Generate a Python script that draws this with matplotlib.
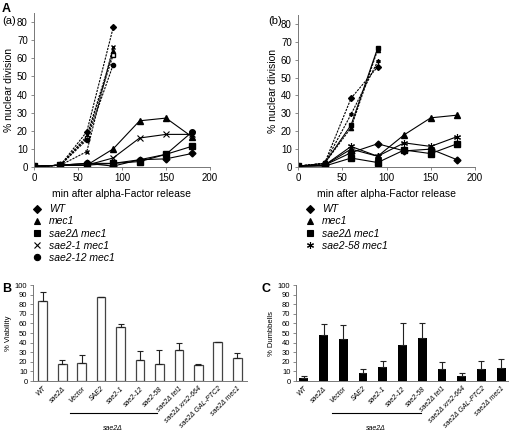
import numpy as np
import matplotlib
matplotlib.use("Agg")
import matplotlib.pyplot as plt
from matplotlib.lines import Line2D

plt.rcParams["font.family"] = ["Liberation Sans", "DejaVu Sans"]

# --- time courses (A) ---
t = [0, 30, 60, 90, 120, 150, 180]
t_short = [0, 30, 60, 90]

wt_a = [0.3, 1, 2, 0.5, 4, 4.5, 7.5]
mec1_a = [0.3, 1, 1, 10, 25.5, 27, 16.5]
dmec1_a = [0.3, 1, 1, 2, 3, 7, 11.5]
s1mec1_a = [0.3, 1, 1, 5, 16, 18, 18]
s12mec1_a = [0.3, 1, 2, 2, 4, 7, 19.5]

wt_a_d = [0.3, 1, 19.5, 77]
mec1_a_d = [0.3, 1, 17, 64]
dmec1_a_d = [0.3, 1, 16, 62]
s1mec1_a_d = [0.3, 1, 8.5, 66.5]
s12mec1_a_d = [0.3, 1, 15, 56.5]

wt_b = [0.5, 1, 8, 13, 9, 10, 4]
mec1_b = [0.5, 1, 10, 6, 18, 27.5, 29]
dmec1_b = [0.5, 0.5, 5, 2.5, 9.5, 7.5, 13]
s58mec1_b = [0.5, 1, 11.5, 6, 13.5, 11.5, 17]

wt_b_d = [0.5, 2, 38.5, 56]
mec1_b_d = [0.5, 2, 22, 65.5]
dmec1_b_d = [0.5, 2, 23.5, 66.5]
s58mec1_b_d = [0.5, 2, 29.5, 59]

# --- bar panels (B, C) ---
strains = ["WT", "sae2Δ", "Vector", "SAE2", "sae2-1", "sae2-12", "sae2-58",
           "sae2Δ tel1", "sae2Δ xrs2-664", "sae2Δ GAL-PTC2", "sae2Δ mec1"]
viability = [83, 18, 19, 88, 56, 22, 18, 32, 17, 41, 24]
viability_err = [10, 4, 8, 0, 3, 9, 14, 8, 1, 0, 5]
dumbbells = [3, 48, 44, 8, 15, 38, 45, 12, 5, 13, 14]
dumbbells_err = [2, 11, 14, 5, 6, 22, 15, 8, 3, 8, 9]

W, H = 510, 432
fig = plt.figure(figsize=(W / 100, H / 100), dpi=100)


def box(l, r, top, bottom):
    return [l / W, 1 - bottom / H, (r - l) / W, (bottom - top) / H]


def style_axes(ax):
    for s in ["top", "right"]:
        ax.spines[s].set_visible(False)
    for s in ["left", "bottom"]:
        ax.spines[s].set_color("#777777")
        ax.spines[s].set_linewidth(0.7)
    ax.tick_params(colors="#777777", labelcolor="black", length=2.5, width=0.6,
                   labelsize=6.5, pad=2)


mk = dict(color="black", lw=0.8, ms=4)
dk = dict(color="black", lw=0.8, ms=3, ls=(0, (2, 1)))

# (a)
axa = fig.add_axes(box(34, 210, 13, 167))
axa.plot(t, wt_a, marker="D", ms=3.5, color="black", lw=0.8)
axa.plot(t, mec1_a, marker="^", **mk)
axa.plot(t, dmec1_a, marker="s", **mk)
axa.plot(t, s1mec1_a, marker="x", mew=0.8, color="black", lw=0.8, ms=4)
axa.plot(t, s12mec1_a, marker="o", **mk)
axa.plot(t_short, wt_a_d, marker="D", **dk)
axa.plot(t_short, mec1_a_d, marker="^", **dk)
axa.plot(t_short, dmec1_a_d, marker="s", mfc="white", **dk)
axa.plot(t_short, s1mec1_a_d, marker="x", **dk)
axa.plot(t_short, s12mec1_a_d, marker="o", **dk)

# (b)
axb = fig.add_axes(box(298, 475, 15, 167))
axb.plot(t, wt_b, marker="D", ms=3.5, color="black", lw=0.8)
axb.plot(t, mec1_b, marker="^", **mk)
axb.plot(t, dmec1_b, marker="s", **mk)
axb.plot(t, s58mec1_b, marker=(6, 2, 0), mew=0.8, color="black", lw=0.8, ms=5)
axb.plot(t_short, wt_b_d, marker="D", **dk)
axb.plot(t_short, mec1_b_d, marker="^", **dk)
axb.plot(t_short, dmec1_b_d, marker="s", color="black", lw=0.8, ms=3)
axb.plot(t_short, s58mec1_b_d, marker=(6, 2, 0), **dk)

for ax in (axa, axb):
    style_axes(ax)
    ax.set_xlim(0, 200)
    ax.set_ylim(0, 85)
    ax.set_xticks([0, 50, 100, 150, 200])
    ax.set_yticks(np.arange(0, 81, 10))
    ax.set_xlabel("min after alpha-Factor release", fontsize=7.5, labelpad=4)
    ax.set_ylabel("% nuclear division", fontsize=7.5, labelpad=2)
    ax.tick_params(labelsize=7)

# legends
def legend(labels, markers, x, y):
    handles = []
    for m in markers:
        ms = 5 if m == (6, 2, 0) else 4.5
        handles.append(Line2D([], [], ls="none", marker=m, color="black", ms=ms, mew=0.8))
    leg = fig.legend(handles, labels, loc="upper left", bbox_to_anchor=(x / W, 1 - y / H),
                     frameon=False, handlelength=1, handletextpad=0.6, labelspacing=0.21,
                     borderpad=0, prop={"size": 7.5, "style": "italic"})
    return leg

legend(["WT", "mec1", "sae2Δ mec1", "sae2-1 mec1", "sae2-12 mec1"],
       ["D", "^", "s", "x", "o"], 27, 199)
legend(["WT", "mec1", "sae2Δ mec1", "sae2-58 mec1"],
       ["D", "^", "s", (6, 2, 0)], 300, 199)

# B
x = np.arange(len(strains))
axB = fig.add_axes(box(33, 247, 285, 381))
axB.bar(x, viability, width=0.45, color="white", edgecolor="#444444", lw=0.9,
        yerr=[np.zeros(len(x)), viability_err], capsize=2,
        error_kw=dict(elinewidth=0.8, capthick=0.8, ecolor="#222222"))
axB.set_ylabel("% Viability", fontsize=5.5, labelpad=2)

# C
axC = fig.add_axes(box(296, 509, 285, 381))
axC.bar(x, dumbbells, width=0.45, color="black",
        yerr=[np.zeros(len(x)), dumbbells_err], capsize=2,
        error_kw=dict(elinewidth=0.8, capthick=0.8, ecolor="#222222"))
axC.set_ylabel("% Dumbbells", fontsize=5.5, labelpad=2)

for ax, xl in ((axB, (-0.5, 10.5)), (axC, (-0.4, 10.4))):
    style_axes(ax)
    ax.set_xlim(*xl)
    ax.set_ylim(0, 100)
    ax.set_yticks(np.arange(0, 101, 10))
    ax.set_xticks(x)
    ax.set_xticklabels(strains, rotation=45, ha="right", rotation_mode="anchor",
                       fontsize=5, style="italic")
    ax.tick_params(axis="x", length=0, pad=3)
    ax.tick_params(axis="y", labelsize=5.5, length=2)

# sae2Δ group brackets
for x0, x1, xc in ((70, 157, 113), (332, 421, 376)):
    fig.add_artist(Line2D([x0 / W, x1 / W], [1 - 413 / H, 1 - 413 / H], color="black", lw=0.8))
    fig.text(xc / W, 1 - 429 / H, "sae2Δ", fontsize=5, style="italic", ha="center", va="center")

# panel letters
fig.text(2 / W, 1 - 9 / H, "A", fontsize=9, fontweight="bold", va="center")
fig.text(2 / W, 1 - 21 / H, "(a)", fontsize=8, va="center")
fig.text(268 / W, 1 - 21 / H, "(b)", fontsize=8, va="center")
fig.text(2 / W, 1 - 289 / H, "B", fontsize=9, fontweight="bold", va="center")
fig.text(262 / W, 1 - 289 / H, "C", fontsize=9, fontweight="bold", va="center")

fig.savefig("out.png", dpi=100)
